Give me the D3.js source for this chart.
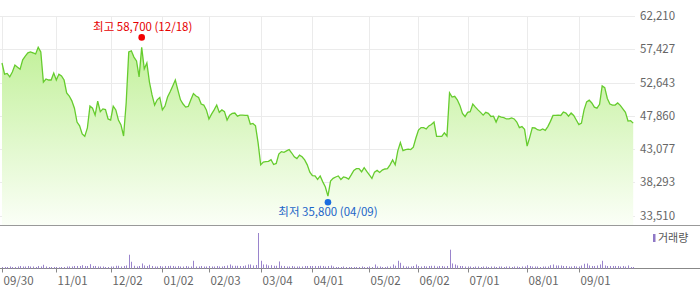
<!DOCTYPE html>
<html>
<head>
<meta charset="utf-8">
<script src="https://cdn.jsdelivr.net/npm/d3@7"></script>
<style>
  body { margin: 0; background: #fff; }
  svg { display: block; font-family: "Noto Sans CJK KR", "Noto Sans", sans-serif; }
</style>
</head>
<body>
<div id="chart"></div>
<script>
// trading days 2024-09-30 .. 2025-09-30 (KRX holidays skipped)
var holidays = ["2024-10-01","2024-10-03","2024-10-09","2024-12-25","2024-12-31",
  "2025-01-01","2025-01-27","2025-01-28","2025-01-29","2025-01-30","2025-03-03",
  "2025-05-01","2025-05-05","2025-05-06","2025-06-03","2025-06-06","2025-08-15"]

var prices = [
  55450,53850,53950,53450,54150,55150,54850,54550,55900,56450,
  56900,57050,56900,56750,57700,57050,52700,53150,53000,53000,
  54000,53000,53850,53600,53000,51150,50700,50000,48950,46950,
  46400,45250,44900,46100,49250,48950,47950,49950,48450,48850,
  48750,47400,47250,49250,48700,47250,46550,44950,49700,57050,
  57200,56300,55750,53450,57700,54600,55450,52700,50850,49400,
  50150,50500,48700,49250,50550,51300,52150,53000,51550,50150,
  49550,49100,49200,50150,51050,50700,50500,49550,49400,48700,
  47400,48100,48700,49400,48350,48700,48450,47250,47950,48200,
  48250,47800,47950,47950,47900,47900,46650,46750,46400,43950,
  40800,41200,41250,41300,41550,40850,41000,42350,42700,42600,
  42800,43000,42500,41950,41700,42200,41950,41500,40800,39750,
  39250,39200,38700,39200,38350,37600,36300,38450,38850,39050,
  39200,38700,39050,38950,38750,39350,40000,40250,40250,39800,
  40400,39850,39350,38850,39750,40000,39700,40050,40200,40250,
  40800,41500,40800,42800,44000,42850,43000,43050,43000,43350,
  44650,45800,46150,46150,45950,46400,46600,46950,44900,44900,
  44900,45400,44950,51150,50550,50650,50150,49350,48200,47750,
  48350,48450,49550,49100,48700,48350,47950,48350,48200,47750,
  47800,46950,47800,47650,47600,47400,47400,47550,47400,46950,
  46150,46300,45900,43500,44750,46150,46100,45850,45750,45950,
  45750,46300,47050,47900,47900,47950,47900,48400,48250,47800,
  48250,47900,47250,46600,46800,48700,49850,50100,49700,49100,
  48950,49500,52150,51900,50350,49550,49400,49400,49700,49350,
  48850,48350,47100,47150,46800
]

var volume = [
  150,150,150,200,150,150,200,250,200,200,
  250,200,200,150,250,200,370,200,150,150,
  150,150,120,150,150,200,200,200,250,250,
  250,330,250,250,430,250,250,200,200,200,
  150,150,200,200,270,270,200,250,300,1370,
  670,270,200,250,500,300,250,370,250,200,
  200,250,200,250,250,270,250,200,250,200,
  200,250,200,200,770,200,200,250,200,200,
  250,200,200,250,200,200,250,300,400,270,
  270,270,250,250,300,400,400,300,350,3530,
  770,400,400,300,330,270,270,700,270,250,
  200,200,250,200,200,200,200,250,250,250,
  250,250,250,270,250,200,250,300,200,150,
  150,150,200,150,150,150,150,150,150,200,
  150,150,200,150,400,200,200,150,150,200,
  200,400,270,770,570,270,200,200,200,250,
  400,250,200,250,200,250,270,270,200,250,
  250,200,250,1870,500,400,300,250,250,200,
  200,200,150,200,200,150,200,200,150,200,
  200,150,200,200,150,200,200,150,200,200,
  150,200,200,330,250,200,200,200,150,200,
  200,200,330,400,300,300,300,250,250,200,
  200,250,200,200,300,470,500,300,250,250,
  300,400,770,300,250,250,250,250,250,200,
  250,200,300,150,150
]

var yTicks = [62210, 57427, 52643, 47860, 43077, 38293, 33510]
var xTicks = ["2024-09-30","2024-11-01","2024-12-02","2025-01-02","2025-02-03","2025-03-04",
  "2025-04-01","2025-05-02","2025-06-02","2025-07-01","2025-08-01","2025-09-01"]

var high = {date: "2024-12-18", value: 58700, label: "최고 58,700 (12/18)"}
var low = {date: "2025-04-09", value: 35800, label: "최저 35,800 (04/09)"}

function fmt(d) {
  return d.getUTCFullYear() + "-" + String(d.getUTCMonth() + 1).padStart(2, "0") + "-" + String(d.getUTCDate()).padStart(2, "0")
}
var dates = []
var d = new Date(Date.UTC(2024, 8, 30))
var end = new Date(Date.UTC(2025, 8, 30))
while (d <= end) {
  var wd = d.getUTCDay()
  var s = fmt(d)
  if (wd != 0 && wd != 6 && holidays.indexOf(s) < 0) dates.push(s)
  d = new Date(d.getTime() + 86400000)
}

var data = dates.map(function(dt, i) { return {date: dt, price: prices[i], vol: volume[i]} })

var width = 700, height = 289
var plotRight = 635, priceBottom = 225.5, volBottom = 268.5

var svg = d3.select("#chart").append("svg")
  .attr("width", width)
  .attr("height", height)

var x = d3.scalePoint().domain(dates).range([2, 633.2])
var y = d3.scaleLinear().domain([33510, 62210]).range([215.5, 16])
var yv = d3.scaleLinear().domain([0, d3.max(volume)]).range([volBottom, 233])

var defs = svg.append("defs")
var grad = defs.append("linearGradient")
  .attr("id", "fillGrad")
  .attr("gradientUnits", "userSpaceOnUse")
  .attr("x1", 0).attr("y1", 30).attr("x2", 0).attr("y2", priceBottom)
grad.append("stop").attr("offset", "0%").attr("stop-color", "#bdef92")
grad.append("stop").attr("offset", "100%").attr("stop-color", "#fbfff7")

// grid
svg.append("g").selectAll("line")
  .data(yTicks)
  .enter().append("line")
    .attr("x1", 0).attr("x2", plotRight)
    .attr("y1", function(t) { return Math.round(y(t)) + 0.5 })
    .attr("y2", function(t) { return Math.round(y(t)) + 0.5 })
    .attr("stroke", "#ebebeb")

svg.append("g").selectAll("line")
  .data(xTicks)
  .enter().append("line")
    .attr("x1", function(t) { return Math.round(x(t)) + 0.5 })
    .attr("x2", function(t) { return Math.round(x(t)) + 0.5 })
    .attr("y1", 16).attr("y2", priceBottom)
    .attr("stroke", "#ebebeb")

// area + line
var area = d3.area()
  .x(function(d) { return x(d.date) })
  .y0(priceBottom)
  .y1(function(d) { return y(d.price) })
var line = d3.line()
  .x(function(d) { return x(d.date) })
  .y(function(d) { return y(d.price) })

svg.append("path").datum(data)
  .attr("d", area)
  .attr("fill", "url(#fillGrad)")
svg.append("path").datum(data)
  .attr("d", line)
  .attr("fill", "none")
  .attr("stroke", "#66cc2e")
  .attr("stroke-width", 1.3)

// panel borders
svg.append("line").attr("x1", 0).attr("x2", width).attr("y1", priceBottom).attr("y2", priceBottom)
  .attr("stroke", "#999")
svg.append("line").attr("x1", 0).attr("x2", width).attr("y1", volBottom).attr("y2", volBottom)
  .attr("stroke", "#888")

// right axis
svg.append("g").selectAll("text")
  .data(yTicks)
  .enter().append("text")
    .attr("x", 640)
    .attr("y", function(t) { return y(t) })
    .attr("dy", "0.36em")
    .attr("font-size", "11.5px")
    .attr("fill", "#666")
    .text(function(t) { return d3.format(",")(t) })

// volume bars
svg.append("g").selectAll("rect")
  .data(data)
  .enter().append("rect")
    .attr("x", function(d) { return Math.round(x(d.date)) })
    .attr("y", function(d) { return yv(d.vol) })
    .attr("width", 1)
    .attr("height", function(d) { return volBottom - yv(d.vol) })
    .attr("fill", "#9a84cc")

// bottom ticks + labels
var tg = svg.append("g").selectAll("g")
  .data(xTicks)
  .enter().append("g")
    .attr("transform", function(t) { return "translate(" + (Math.round(x(t)) + 0.5) + ",0)" })
tg.append("line").attr("y1", volBottom).attr("y2", volBottom + 4).attr("stroke", "#888")
tg.append("text")
  .attr("x", 1)
  .attr("y", 281)
  .attr("dy", "0.36em")
  .attr("font-size", "11.5px")
  .attr("fill", "#666")
  .text(function(t) { return t.slice(5, 7) + "/" + t.slice(8, 10) })

// legend
svg.append("rect").attr("x", 653).attr("y", 234).attr("width", 2.5).attr("height", 8).attr("fill", "#8f78c6")
svg.append("text").attr("x", 658).attr("y", 238).attr("dy", "0.36em")
  .attr("font-size", "11px").attr("fill", "#555").text("거래량")

// high / low markers
svg.append("circle").attr("cx", x(high.date)).attr("cy", y(high.value) - 3).attr("r", 3.3).attr("fill", "#f20000")
svg.append("text").attr("x", x(high.date) + 1).attr("y", y(high.value) - 14)
  .attr("text-anchor", "middle").attr("dy", "0.36em")
  .attr("font-size", "11.5px").attr("fill", "#e60000").text(high.label)

svg.append("circle").attr("cx", x(low.date)).attr("cy", y(low.value) + 2.7).attr("r", 3.3).attr("fill", "#1a6ee0")
svg.append("text").attr("x", x(low.date)).attr("y", y(low.value) + 12.5)
  .attr("text-anchor", "middle").attr("dy", "0.36em")
  .attr("font-size", "11.5px").attr("fill", "#1c65c8").text(low.label)
</script>
</body>
</html>
